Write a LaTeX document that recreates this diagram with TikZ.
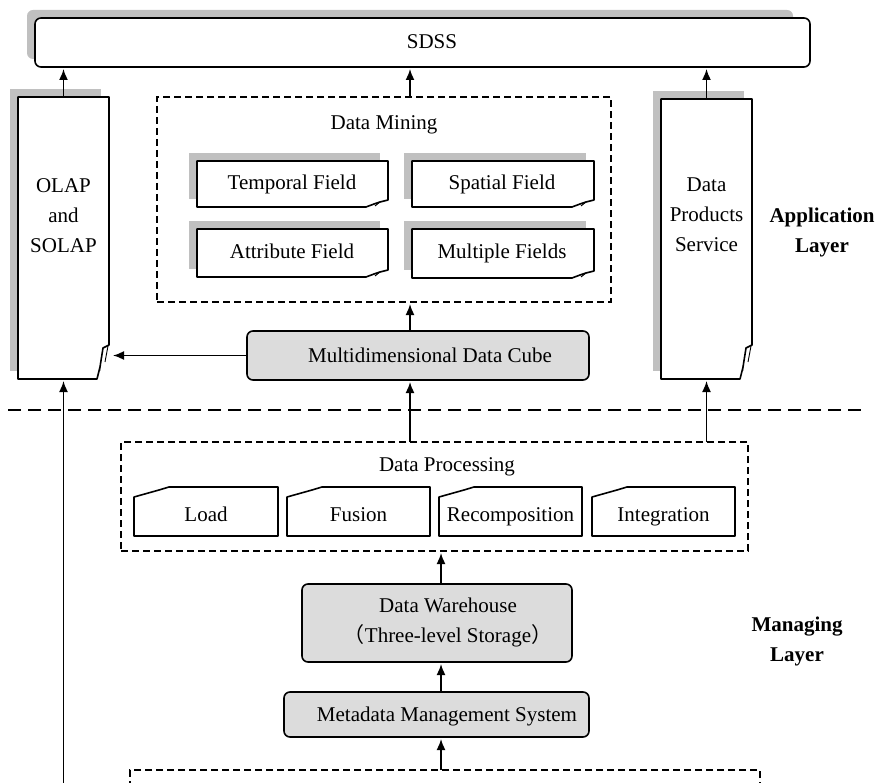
\documentclass[tikz,border=0pt]{standalone}
\usepackage{fontspec}
\setmainfont{Liberation Serif}
\newfontfamily\cjk{Noto Sans CJK SC}
\usetikzlibrary{arrows.meta,calc}
\definecolor{shadowgray}{HTML}{C0C0C0}
\definecolor{cubegray}{HTML}{DCDCDC}
\tikzset{
  lw/.style={line width=1.6pt},
  arr/.style={lw, -{Latex[length=11pt,width=9pt]}, shorten >=2pt},
  geom/.style={draw=none, inner sep=0pt, outer sep=0pt},
  dashbox/.style={draw, lw, dash pattern=on 7pt off 4pt, inner sep=0pt, outer sep=0pt},
  graybox/.style={draw, lw, fill=cubegray, rounded corners=6pt, inner sep=0pt, outer sep=0pt},
  shadowfill/.style={fill=shadowgray},
  txt/.style={font=\fontsize{21}{30}\selectfont, align=center, inner sep=0pt, text height=14pt, text depth=4pt},
  mtxt/.style={font=\fontsize{21}{30}\selectfont, align=center, inner sep=0pt},
  boldtxt/.style={font=\fontsize{21}{30}\selectfont\bfseries, align=center, inner sep=0pt},
  divider/.style={lw, dash pattern=on 13pt off 7pt},
}
\newcommand\boxshadow[1]{%
  \fill[shadowfill] ([shift={(-8pt,8pt)}]#1.north west) rectangle ([shift={(-8pt,8pt)}]#1.south east);}
\newcommand\tallfold[1]{%
  \boxshadow{#1}%
  \draw[lw, fill=white, line join=round] (#1.north west) -- (#1.north east) -- ([yshift=34pt]#1.south east)
    -- ([xshift=-6pt,yshift=31pt]#1.south east) -- ([xshift=-9pt,yshift=12pt]#1.south east)
    -- ([xshift=-12pt]#1.south east) -- (#1.south west) -- cycle;
  \draw[line width=0.9pt] ([xshift=-1pt,yshift=33pt]#1.south east) -- ([xshift=-4pt,yshift=17pt]#1.south east);}
\newcommand\fieldfold[1]{%
  \boxshadow{#1}%
  \draw[lw, fill=white, line join=round] (#1.north west) -- (#1.north east) -- ([yshift=7pt]#1.south east)
    -- ([xshift=-8pt,yshift=5pt]#1.south east) -- ([xshift=-14pt,yshift=3pt]#1.south east)
    -- ([xshift=-22pt]#1.south east) -- (#1.south west) -- cycle;
  \draw[line width=0.9pt] ([xshift=-8pt,yshift=5pt]#1.south east) -- ([xshift=-13pt,yshift=1pt]#1.south east);}
\newcommand\cardcut[1]{%
  \draw[lw, fill=white, line join=round] ([yshift=-10pt]#1.north west) -- ([xshift=25pt,yshift=-3pt]#1.north west)
    -- ([xshift=35pt]#1.north west) -- (#1.north east) -- (#1.south east) -- (#1.south west) -- cycle;}
\begin{document}
\begin{tikzpicture}[x=1pt,y=-1pt]
\useasboundingbox (0,0) rectangle (877,783);
\fill[white] (0,0) rectangle (877,783);

% geometry nodes
\node[geom, minimum width=775pt, minimum height=49pt] (sdss) at (422.5,42.5) {};
\node[geom, minimum width=91pt, minimum height=282pt] (olap) at (63.5,238) {};
\node[geom, minimum width=91pt, minimum height=280pt] (dps) at (706.5,239) {};
\node[geom, minimum width=191pt, minimum height=46pt] (tf) at (292.5,184) {};
\node[geom, minimum width=182pt, minimum height=46pt] (sf) at (503,184) {};
\node[geom, minimum width=191pt, minimum height=48pt] (af) at (292.5,253) {};
\node[geom, minimum width=182pt, minimum height=49pt] (mf) at (503,253.5) {};
\node[geom, minimum width=144pt, minimum height=49pt] (load) at (206,511.5) {};
\node[geom, minimum width=143pt, minimum height=49pt] (fusion) at (358.5,511.5) {};
\node[geom, minimum width=143pt, minimum height=49pt] (recomp) at (510.5,511.5) {};
\node[geom, minimum width=143pt, minimum height=49pt] (integ) at (663.5,511.5) {};

% shapes
\fill[shadowfill, rounded corners=6pt] ([shift={(-8pt,8pt)}]sdss.north west) rectangle ([shift={(-17pt,8pt)}]sdss.south east);
\draw[lw, fill=white, rounded corners=6pt] (sdss.north west) rectangle (sdss.south east);
\tallfold{olap}
\tallfold{dps}
\node[dashbox, minimum width=454pt, minimum height=205pt] (dm) at (384,199.5) {};
\fieldfold{tf}
\fieldfold{sf}
\fieldfold{af}
\fieldfold{mf}
\node[graybox, minimum width=342pt, minimum height=49pt] (cube) at (418,355.5) {};
\node[dashbox, minimum width=627pt, minimum height=109pt] (dp) at (434.5,496.5) {};
\cardcut{load}
\cardcut{fusion}
\cardcut{recomp}
\cardcut{integ}
\node[graybox, minimum width=270pt, minimum height=78pt] (dw) at (437,623) {};
\node[graybox, minimum width=305pt, minimum height=45pt] (meta) at (436.5,714.5) {};
\node[dashbox, minimum width=630pt, minimum height=60pt] (src) at (445,800) {};

% divider
\draw[divider] (8,410) -- (862,410);

% texts
\node[txt] (tsdss) at (432,44) {SDSS};
\node[mtxt] (tolap) at (63.5,216) {OLAP\\and\\SOLAP};
\node[mtxt] (tdps) at (706.5,215) {Data\\Products\\Service};
\node[txt] (tdm) at (384,125) {Data Mining};
\node[txt] (ttf) at (292,185) {Temporal Field};
\node[txt] (tsf) at (502,185) {Spatial Field};
\node[txt] (taf) at (292,254) {Attribute Field};
\node[txt] (tmf) at (502,254) {Multiple Fields};
\node[txt] (tcube) at (430,357) {Multidimensional Data Cube};
\node[txt] (tdp) at (447,466) {Data Processing};
\node[txt] (tload) at (206,516) {Load};
\node[txt] (tfusion) at (358.5,516) {Fusion};
\node[txt] (trecomp) at (510.5,516) {Recomposition};
\node[txt] (tinteg) at (663.5,516) {Integration};
\node[mtxt] (tdw) at (448,622) {Data Warehouse\\{\cjk （}Three-level Storage{\cjk ）}};
\node[txt] (tmeta) at (447,716) {Metadata Management System};
\node[boldtxt] (tapp) at (822,232) {Application\\Layer};
\node[boldtxt] (tman) at (797,641) {Managing\\Layer};

% helper coordinates
\coordinate (c410) at (410,0);
\coordinate (c441) at (441,0);
\coordinate (bot) at (0,790);

% connectors
\draw[arr] (olap.north) -- (olap.north |- sdss.south);
\draw[arr] (dm.north -| c410) -- (sdss.south -| c410);
\draw[arr] (dps.north) -- (dps.north |- sdss.south);
\draw[arr] (cube.west) -- ([xshift=2pt]cube.west -| olap.east);
\draw[arr] (cube.north -| c410) -- (dm.south -| c410);
\draw[arr] (dp.north -| c410) -- (cube.south -| c410);
\draw[arr] (dp.north -| dps.south) -- (dps.south);
\draw[arr] (dw.north -| c441) -- (dp.south -| c441);
\draw[arr] (meta.north -| c441) -- (dw.south -| c441);
\draw[arr] (src.north -| c441) -- (meta.south -| c441);
\draw[arr] (bot -| olap.south) -- (olap.south);
\end{tikzpicture}
\end{document}
